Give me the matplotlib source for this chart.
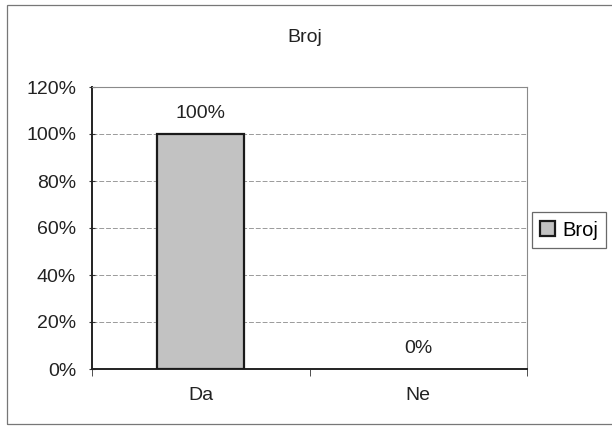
import matplotlib.pyplot as plt
from matplotlib.patches import Rectangle

categories = ["Da", "Ne"]
values = [100, 0]
labels = ["100%", "0%"]
yticks = [0, 20, 40, 60, 80, 100, 120]
series_name = "Broj"

plt.rcParams['font.family'] = ['Liberation Sans', 'DejaVu Sans']
fs = 14

fig = plt.figure(figsize=(6.12, 4.29), dpi=100)
ax = fig.add_axes([92 / 612, 1 - 369 / 429, 435 / 612, 282 / 429])

x = range(len(categories))
edges = ['#1a1a1a' if v > 0 else 'none' for v in values]
bars = ax.bar(x, values, width=0.4, color='#c2c2c2', edgecolor=edges,
              linewidth=1.6, label=series_name, zorder=3)
for xi, v, lab in zip(x, values, labels):
    ax.text(xi, v + 5, lab, ha='center', va='bottom', fontsize=fs, color='#222222')

ax.set_xlim(-0.5, 1.5)
ax.set_ylim(0, 120)
ax.set_yticks(yticks)
ax.set_yticklabels([f"{t}%" for t in yticks], fontsize=fs, color='#222222')
ax.set_xticks([0, 1])
ax.set_xticklabels(categories, fontsize=fs, color='#222222')
ax.tick_params(axis='x', length=0, pad=13)
ax.set_xticks([-0.5, 0.5, 1.5], minor=True)
ax.tick_params(axis='x', which='minor', length=5, direction='out', color='#333333')
ax.tick_params(axis='y', length=5, direction='inout', color='#333333', pad=9)
ax.yaxis.grid(True, color='#9a9a9a', linewidth=0.7, linestyle=(0, (5, 2)), zorder=0)
ax.set_axisbelow(True)

ax.spines['left'].set_color('#222222')
ax.spines['bottom'].set_color('#222222')
ax.spines['left'].set_linewidth(1.4)
ax.spines['bottom'].set_linewidth(1.4)
ax.spines['top'].set_color('#8a8a8a')
ax.spines['right'].set_color('#8a8a8a')

fig.text(305 / 612, 1 - 38 / 429, "Broj", ha='center', va='center', fontsize=fs, color='#222222')

leg = fig.legend(handles=[bars], labels=[series_name], loc='center left',
                 bbox_to_anchor=(532 / 612, 1 - 230 / 429), frameon=True,
                 fancybox=False, fontsize=fs + 0.5, handlelength=0.75, handleheight=0.75,
                 handletextpad=0.35, borderpad=0.4, borderaxespad=0)
leg.get_frame().set_edgecolor('#444444')
leg.get_frame().set_linewidth(0.9)
leg.legend_handles[0].set_edgecolor('#1a1a1a')

# outer chart border
fig.patches.append(Rectangle((7 / 612, 5 / 429), 1.2, 1 - 10 / 429, transform=fig.transFigure,
                             fill=False, edgecolor='#777777', linewidth=0.9))

fig.savefig("out.png", dpi=100)
